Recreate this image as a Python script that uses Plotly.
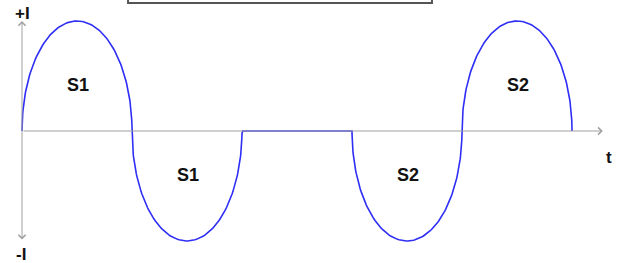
import numpy as np
import plotly.graph_objects as go

# ---- data ----
lobe_start = [0.0, 1.0, 2.0, 3.0, 4.0]      # t where each half-period starts
lobe_end = [1.0, 2.0, 3.0, 4.0, 5.0]        # t where it ends
lobe_peak = [1.0, -1.0, 0.0, -1.0, 1.0]     # amplitude of each half-period (I units)
lobe_label = ["S1", "S1", "", "S2", "S2"]
label_pos_I = [0.42, -0.40, 0.0, -0.40, 0.42]

axis_labels = {"+I": (0.0, 1.065), "-I": (-0.005, -1.125), "t": (5.34, -0.245)}

# ---- build curve (elliptic half-lobes) ----
ts, Is = [], []
theta = np.linspace(0, np.pi, 120)
for a, b, A in zip(lobe_start, lobe_end, lobe_peak):
    ts.extend(list(a + (b - a) * (1 - np.cos(theta)) / 2))
    Is.extend(list(A * np.sin(theta)))

fig = go.Figure()
fig.add_trace(go.Scatter(x=ts, y=Is, mode="lines",
                         line=dict(color="#2e2ef5", width=1.6),
                         hoverinfo="skip", showlegend=False))

axis_col = "#a0a0a0"
anns = []
# x axis with arrow
anns.append(dict(x=5.28, y=0, ax=0, ay=0, xref="x", yref="y", axref="x", ayref="y",
                 showarrow=True, arrowhead=4, arrowsize=1.4, arrowwidth=1,
                 arrowcolor=axis_col, text=""))
# y axis with arrows both ends
anns.append(dict(x=0, y=1.0, ax=0, ay=-1.0, xref="x", yref="y", axref="x", ayref="y",
                 showarrow=True, arrowhead=4, startarrowhead=4, arrowside="end+start",
                 arrowsize=1.4, startarrowsize=1.4, arrowwidth=1,
                 arrowcolor=axis_col, text=""))

font = dict(family="Liberation Sans, Arial, sans-serif", size=18, color="#111111")
for a, b, lab, yy in zip(lobe_start, lobe_end, lobe_label, label_pos_I):
    if lab:
        anns.append(dict(x=(a + b) / 2 + 0.01, y=yy, xref="x", yref="y", text="<b>%s</b>" % lab,
                         showarrow=False, font=font))
for txt, (xx, yy) in axis_labels.items():
    anns.append(dict(x=xx, y=yy, xref="x", yref="y", text="<b>%s</b>" % txt,
                     showarrow=False, font=dict(family="Liberation Sans, Arial, sans-serif",
                                                size=17, color="#111111")))

fig.update_layout(
    width=619, height=263,
    margin=dict(l=0, r=0, t=0, b=0),
    paper_bgcolor="white", plot_bgcolor="white",
    xaxis=dict(range=[-0.2, 5.4273], visible=False, fixedrange=True),
    yaxis=dict(range=[-1.2, 1.1909], visible=False, fixedrange=True),
    annotations=anns,
    shapes=[dict(type="rect", xref="x", yref="y", x0=0.964, x1=3.727, y0=1.1636, y1=1.4,
                 line=dict(color="#555555", width=2), fillcolor="rgba(0,0,0,0)")],
    showlegend=False,
)
fig.write_html("out.html", config={"displayModeBar": False},
               post_script="document.body.style.margin='0';document.body.style.overflow='hidden';")
